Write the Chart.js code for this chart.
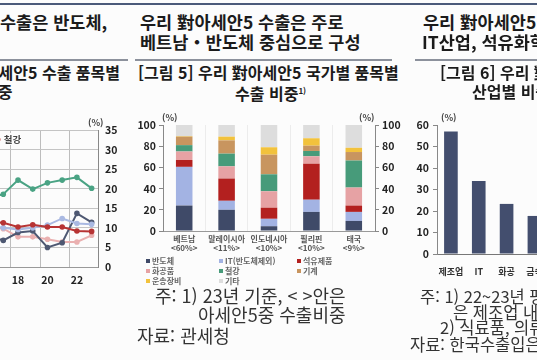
<!DOCTYPE html>
<html lang="ko">
<head>
<meta charset="utf-8">
<title>對아세안5 수출 품목별 비중</title>
<script src="https://cdn.jsdelivr.net/npm/chart.js@4.4.0/dist/chart.umd.min.js"></script>
<style>
  html, body { margin: 0; padding: 0; }
  body {
    width: 537px; height: 360px; overflow: hidden; position: relative;
    background: #fcfcfc;
    font-family: 'Noto Sans CJK KR', 'Noto Sans', sans-serif;
  }
  .t { position: absolute; white-space: nowrap; color: #1b1b1b; }
  .h { font-weight: bold; font-size: 17.5px; line-height: 18px; }
  .f { font-weight: bold; font-size: 16px; line-height: 17px; }
  .n { font-size: 18px; line-height: 18px; color: #333; }
  .m { font-size: 16.5px; line-height: 16px; color: #333; }
  .u { position: absolute; font-size: 9px; font-weight: bold; color: #444; }
  .box { position: absolute; }
  .rule { position: absolute; height: 1.5px; background: #8c919c; }
  #legend { position: absolute; left: 146px; top: 256px; width: 230px;
    display: grid; grid-template-columns: 73px 78px 70px; row-gap: 1px; }
  #legend div { font-size: 8px; line-height: 9px; font-weight: bold; color: #666; white-space: nowrap; }
  #legend span { display: inline-block; width: 4px; height: 4px; margin-right: 2px; vertical-align: 1px; }
</style>
</head>
<body>
<div style="position:absolute;left:0;top:3px;width:537px;height:2px;background:#4b5a7a"></div>

<!-- left panel (cut off) -->
<div class="t h" style="left:0;top:13px">수출은 반도체,</div>
<div class="rule" style="left:0;top:59px;width:128px"></div>
<div class="t f" style="right:417px;top:64px">[그림 4] 우리 對아세안5 수출 품목별</div>
<div class="t f" style="left:-17px;top:83px">비중</div>
<div class="box" style="left:-25px;top:110px;width:152px;height:180px"><canvas id="lineChart"></canvas></div>
<div class="u" style="left:88px;top:116px">(%)</div>
<div style="position:absolute;left:-2px;top:133px;background:#fcfcfc;font-size:9.5px;font-weight:bold;color:#444;line-height:12px;padding-right:2px">
  <span style="display:inline-block;width:3px;height:3px;border-radius:2px;background:#e0a0a0;vertical-align:2px"></span> 철강</div>

<!-- middle panel -->
<div class="t h" style="left:140px;top:13px">우리 對아세안5 수출은 주로</div>
<div class="t h" style="left:140px;top:33px">베트남・반도체 중심으로 구성</div>
<div class="rule" style="left:135px;top:59px;width:257px"></div>
<div class="t f" style="left:138px;top:64px">[그림 5] 우리 對아세안5 국가별 품목별</div>
<div class="t f" style="left:235px;top:82px">수출 비중<sup style="font-size:8px">1)</sup></div>
<div class="box" style="left:130px;top:105px;width:275px;height:155px"><canvas id="shareChart"></canvas></div>
<div class="u" style="left:162px;top:111px">(%)</div>
<div class="u" style="left:359px;top:111px">(%)</div>
<div id="legend"></div>
<div class="t n" style="left:155px;top:286px">주: 1) 23년 기준, &lt; &gt;안은</div>
<div class="t n" style="left:198px;top:305px">아세안5중 수출비중</div>
<div class="t n" style="left:137px;top:326px">자료: 관세청</div>

<!-- right panel (cut off) -->
<div class="t h" style="left:423px;top:13px">우리 對아세안5 수출은</div>
<div class="t h" style="left:422px;top:33px">IT산업, 석유화학 중심</div>
<div class="rule" style="left:415px;top:59px;width:122px"></div>
<div class="t f" style="left:440px;top:64px">[그림 6] 우리 對아세안5 수출</div>
<div class="t f" style="left:472px;top:83px">산업별 비중</div>
<div class="box" style="left:395px;top:105px;width:209px;height:173px"><canvas id="industryChart"></canvas></div>
<div class="u" style="left:441px;top:111px">(%)</div>
<div class="t m" style="left:420px;top:288px">주: 1) 22~23년 평균 기준</div>
<div class="t m" style="left:453px;top:304px">은 제조업 내 비중</div>
<div class="t m" style="left:440px;top:319px">2) 식료품, 의류 등</div>
<div class="t m" style="left:410px;top:336px">자료: 한국수출입은행</div>

<script>
// [그림 5] 국가별 품목별 수출 비중 (%)
const countries = ['베트남', '말레이시아', '인도네시아', '필리핀', '태국'];
const countryShares = ['<60%>', '<11%>', '<10%>', '<10%>', '<9%>'];
const itemNames = ['반도체', 'IT(반도체제외)', '석유제품', '화공품', '철강', '기계', '운송장비', '기타'];
const semiconductor = [24, 20, 4.5, 18, 9.5];
const itExSemi = [36.5, 8.5, 7, 11.5, 8.5];
const petroleum = [6.5, 21, 10.5, 34, 6];
const chemicals = [8, 11.5, 15.5, 7, 17];
const steel = [6, 12, 16, 5, 25.5];
const machinery = [8, 12.5, 18.5, 5, 8];
const transport = [0.5, 3.5, 7, 7, 4];
const others = [10.5, 11, 21, 12.5, 21.5];
const shareTicks = [0, 20, 40, 60, 80, 100];

// [그림 4] 연도별 품목 비중 (%), 왼쪽 잘린 부분
const years = ['16', '17', '18', '19', '20', '21', '22', '23'];
const lineGreen = [17.5, 18.6, 22.2, 19.9, 21.5, 22.2, 22.9, 20.1];
const lineRed = [11.5, 11.3, 10.2, 10.8, 10.2, 10.2, 9.2, 9.1];
const lineBlue = [10.5, 10.0, 9.6, 10.0, 10.7, 12.4, 11.1, 10.9];
const lineNavy = [8.0, 6.8, 8.8, 9.2, 5.0, 6.2, 13.7, 11.4];
const linePink = [10.5, 9.8, 7.7, 7.7, 7.1, 6.4, 6.4, 8.1];

// [그림 6] 산업별 비중 (%), 오른쪽 잘린 부분
const industries = ['제조업', 'IT', '화공', '금속', '기계', '운송'];
const industryShares = [57, 34, 23.3, 17.7, 12, 8];

const itemColors = ['#3f4a68', '#a3b3e3', '#b3201f', '#e6a2a4', '#479b7a', '#c8955f', '#f2c23c', '#dddddd'];
const itemSeries = [semiconductor, itExSemi, petroleum, chemicals, steel, machinery, transport, others];

Chart.defaults.font.family = "'Noto Sans CJK KR', 'Noto Sans', sans-serif";
Chart.defaults.animation = false;

const tickFont = { size: 10.5, weight: 'bold' };

// legend (3 columns)
const legendEl = document.getElementById('legend');
itemNames.forEach((name, i) => {
    const d = document.createElement('div');
    d.innerHTML = '<span style="background:' + itemColors[i] + '"></span>' + name;
    legendEl.appendChild(d);
});

new Chart(document.getElementById('shareChart'), {
    type: 'bar',
    data: {
        labels: countries.map((c, i) => [c, countryShares[i]]),
        datasets: itemSeries.map((values, i) => ({
            label: itemNames[i],
            data: values,
            backgroundColor: itemColors[i],
            barPercentage: 0.39,
            categoryPercentage: 1
        }))
    },
    options: {
        responsive: true,
        maintainAspectRatio: false,
        layout: { padding: { top: 20 } },
        plugins: { legend: { display: false }, tooltip: { enabled: false } },
        scales: {
            x: {
                stacked: true,
                grid: { color: '#ececec', offset: true, drawTicks: false },
                border: { color: '#999' },
                ticks: { font: { size: 8, weight: 'bold' }, color: '#555', padding: 3, maxRotation: 0 },
                afterFit: s => { s.height = 29; }
            },
            y: {
                stacked: true, min: 0, max: 100,
                afterBuildTicks: s => { s.ticks = shareTicks.map(v => ({ value: v })); },
                grid: { drawOnChartArea: false, tickLength: 4, color: '#888' },
                border: { color: '#888' },
                ticks: { font: tickFont, color: '#222', padding: 3 },
                afterFit: s => { s.width = 33; }
            },
            y2: {
                position: 'right', min: 0, max: 100,
                afterBuildTicks: s => { s.ticks = shareTicks.map(v => ({ value: v })); },
                grid: { drawOnChartArea: false, tickLength: 4, color: '#888' },
                border: { color: '#888' },
                ticks: { font: tickFont, color: '#222', padding: 3 },
                afterFit: s => { s.width = 30; }
            }
        }
    }
});

new Chart(document.getElementById('lineChart'), {
    type: 'line',
    data: {
        labels: years,
        datasets: [
            { label: '반도체', data: lineGreen, borderColor: '#4aa384', backgroundColor: '#4aa384' },
            { label: '석유제품', data: lineRed, borderColor: '#b73434', backgroundColor: '#b73434' },
            { label: '화공품', data: lineBlue, borderColor: '#aab9e2', backgroundColor: '#aab9e2' },
            { label: 'IT', data: lineNavy, borderColor: '#4e5872', backgroundColor: '#4e5872' },
            { label: '철강', data: linePink, borderColor: '#eab0b0', backgroundColor: '#eab0b0' }
        ].map(d => Object.assign(d, { borderWidth: 2, pointRadius: 1.8, tension: 0 }))
    },
    options: {
        responsive: true,
        maintainAspectRatio: false,
        layout: { padding: { top: 20, left: 5 } },
        plugins: { legend: { display: false }, tooltip: { enabled: false } },
        scales: {
            x: {
                offset: true,
                grid: {
                    offset: true, drawTicks: false,
                    color: ctx => (years[ctx.index] && +years[ctx.index] % 2 === 0) ? '#bdbdbd' : 'rgba(0,0,0,0)'
                },
                border: { color: '#999' },
                ticks: {
                    autoSkip: false, maxRotation: 0, font: tickFont, color: '#222', padding: 7,
                    callback: (v, i) => (+years[i] % 2 === 0 ? years[i] : '')
                },
                afterFit: s => { s.height = 23; }
            },
            y: {
                position: 'right', min: 0, max: 35,
                ticks: { stepSize: 5, font: tickFont, color: '#222', padding: 6 },
                grid: { color: '#c4c4c4', drawTicks: false },
                border: { color: '#888' },
                afterFit: s => { s.width = 28; }
            }
        }
    }
});

new Chart(document.getElementById('industryChart'), {
    type: 'bar',
    data: {
        labels: industries,
        datasets: [{
            label: '비중',
            data: industryShares,
            backgroundColor: '#434e6e',
            barPercentage: 0.49,
            categoryPercentage: 1
        }]
    },
    options: {
        responsive: true,
        maintainAspectRatio: false,
        layout: { padding: { top: 20 } },
        plugins: { legend: { display: false }, tooltip: { enabled: false } },
        scales: {
            x: {
                grid: { display: false },
                border: { color: '#777' },
                ticks: { autoSkip: false, font: { size: 9, weight: 'bold' }, color: '#333', padding: 4, maxRotation: 0 },
                afterFit: s => { s.height = 24; }
            },
            y: {
                min: 0, max: 60,
                ticks: { stepSize: 10, font: tickFont, color: '#222', padding: 4 },
                grid: { drawOnChartArea: false, tickLength: 4, color: '#888' },
                border: { color: '#888' },
                afterFit: s => { s.width = 42; }
            }
        }
    }
});
</script>
</body>
</html>
